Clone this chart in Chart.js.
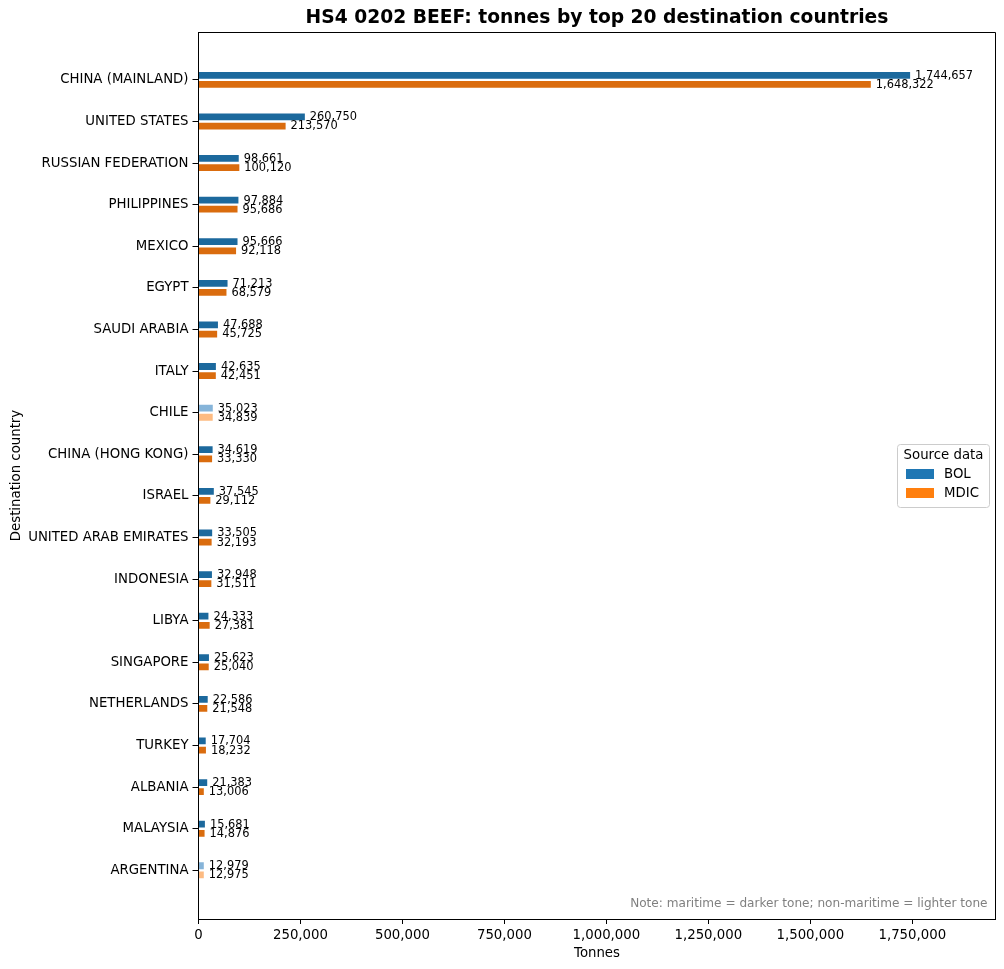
<!DOCTYPE html>
<html>
<head>
<meta charset="utf-8">
<script src="https://cdn.jsdelivr.net/npm/chart.js@4.4.1/dist/chart.umd.min.js"></script>
<style>
  html, body { margin: 0; padding: 0; background: #fff; }
  #wrap { width: 1004px; height: 969px; }
</style>
</head>
<body>
<div id="wrap"><canvas id="c" width="1004" height="969"></canvas></div>
<script>
const countries = [
  'CHINA (MAINLAND)', 'UNITED STATES', 'RUSSIAN FEDERATION', 'PHILIPPINES', 'MEXICO',
  'EGYPT', 'SAUDI ARABIA', 'ITALY', 'CHILE', 'CHINA (HONG KONG)',
  'ISRAEL', 'UNITED ARAB EMIRATES', 'INDONESIA', 'LIBYA', 'SINGAPORE',
  'NETHERLANDS', 'TURKEY', 'ALBANIA', 'MALAYSIA', 'ARGENTINA'
];
const bolTonnes = [
  1744657, 260750, 98661, 97884, 95666,
  71213, 47688, 42635, 35023, 34619,
  37545, 33505, 32948, 24333, 25623,
  22586, 17704, 21383, 15681, 12979
];
const mdicTonnes = [
  1648322, 213570, 100120, 95686, 92118,
  68579, 45725, 42451, 34839, 33330,
  29112, 32193, 31511, 27381, 25040,
  21548, 18232, 13006, 14876, 12975
];
const maritime = [
  true, true, true, true, true,
  true, true, true, false, true,
  true, true, true, true, true,
  true, true, true, true, false
];
const xTicks = [0, 250000, 500000, 750000, 1000000, 1250000, 1500000, 1750000];

const FONT = "'DejaVu Sans', 'Liberation Sans', sans-serif";
const colors = {
  bolDark: '#1c699d', bolLight: '#86b4d9',
  mdicDark: '#da6c0e', mdicLight: '#fdbb82',
  bolLegend: '#1f77b4', mdicLegend: '#ff7f0e'
};
const xMax = Math.max(...bolTonnes, ...mdicTonnes) * 1.12;
const fmt = v => Number(v).toLocaleString('en-US');

const extrasPlugin = {
  id: 'extras',
  afterDatasetsDraw(chart) {
    const ctx = chart.ctx;
    ctx.save();
    ctx.font = '11.4px ' + FONT;
    ctx.fillStyle = '#000';
    ctx.textAlign = 'left';
    ctx.textBaseline = 'middle';
    chart.data.datasets.forEach((ds, di) => {
      const meta = chart.getDatasetMeta(di);
      meta.data.forEach((bar, i) => {
        ctx.fillText(fmt(ds.data[i].x), bar.x + 5, bar.y + 0.5);
      });
    });
    ctx.restore();
  },
  afterDraw(chart) {
    const ctx = chart.ctx;
    const a = chart.chartArea;
    const al = p => Math.round(p - 0.5) + 0.5;
    ctx.save();
    // frame (aligned with the axis borders)
    ctx.strokeStyle = '#000';
    ctx.lineWidth = 1;
    ctx.beginPath();
    ctx.moveTo(al(a.left), al(a.top));
    ctx.lineTo(al(a.right), al(a.top));
    ctx.lineTo(al(a.right), al(a.bottom));
    ctx.stroke();
    // title
    ctx.fillStyle = '#000';
    ctx.font = 'bold 18.7px ' + FONT;
    ctx.textAlign = 'center';
    ctx.textBaseline = 'middle';
    ctx.fillText('HS4 0202 BEEF: tonnes by top 20 destination countries', (a.left + a.right) / 2, 18);
    // note
    ctx.font = '12.1px ' + FONT;
    ctx.fillStyle = '#808080';
    ctx.textAlign = 'right';
    ctx.fillText('Note: maritime = darker tone; non-maritime = lighter tone', a.right - 8, a.bottom - 15);
    // legend
    const lx = 897.5, ly = 444.5, lw = 92, lh = 63;
    ctx.beginPath();
    ctx.roundRect(lx, ly, lw, lh, 3);
    ctx.fillStyle = 'rgba(255,255,255,0.8)';
    ctx.fill();
    ctx.strokeStyle = '#cccccc';
    ctx.stroke();
    ctx.fillStyle = '#000';
    ctx.font = '13.3px ' + FONT;
    ctx.textAlign = 'center';
    ctx.fillText('Source data', lx + lw / 2, 455.5);
    const entries = [
      { label: chart.data.datasets[0].label, color: colors.bolLegend, y: 474 },
      { label: chart.data.datasets[1].label, color: colors.mdicLegend, y: 493 }
    ];
    ctx.textAlign = 'left';
    entries.forEach(e => {
      ctx.fillStyle = e.color;
      ctx.fillRect(906, e.y - 5, 28, 10);
      ctx.fillStyle = '#000';
      ctx.fillText(e.label, 944, e.y + 0.5);
    });
    ctx.restore();
  }
};

new Chart(document.getElementById('c'), {
  type: 'bar',
  data: {
    datasets: [
      {
        label: 'BOL',
        data: bolTonnes.map((v, i) => ({ x: v, y: i })),
        backgroundColor: maritime.map(m => m ? colors.bolDark : colors.bolLight),
        categoryPercentage: 0.44,
        barPercentage: 0.74
      },
      {
        label: 'MDIC',
        data: mdicTonnes.map((v, i) => ({ x: v, y: i })),
        backgroundColor: maritime.map(m => m ? colors.mdicDark : colors.mdicLight),
        categoryPercentage: 0.44,
        barPercentage: 0.74
      }
    ]
  },
  options: {
    indexAxis: 'y',
    responsive: false,
    animation: false,
    devicePixelRatio: 1,
    layout: { padding: { top: 32, right: 8.5, left: 0, bottom: 0 } },
    plugins: {
      legend: { display: false },
      title: { display: false },
      tooltip: { enabled: false }
    },
    scales: {
      x: {
        type: 'linear',
        position: 'bottom',
        min: 0,
        max: xMax,
        offset: false,
        afterBuildTicks(scale) { scale.ticks = xTicks.map(v => ({ value: v })); },
        afterFit(scale) { scale.height = 50; },
        ticks: {
          color: '#000',
          font: { family: FONT, size: 13.3 },
          padding: 4,
          maxRotation: 0,
          autoSkip: false,
          callback: v => fmt(v)
        },
        grid: { offset: false, drawOnChartArea: false, drawTicks: true, tickLength: 5, color: '#000', tickColor: '#000' },
        border: { display: true, color: '#000', width: 1 },
        title: {
          display: true, text: 'Tonnes', color: '#000',
          font: { family: FONT, size: 13.3 },
          padding: { top: 0, bottom: 7 }
        }
      },
      y: {
        type: 'linear',
        position: 'left',
        reverse: true,
        offset: false,
        min: -1.15,
        max: countries.length - 1 + 1.17,
        afterBuildTicks(scale) { scale.ticks = countries.map((c, i) => ({ value: i })); },
        afterFit(scale) { scale.width = 198.5; },
        ticks: {
          color: '#000',
          font: { family: FONT, size: 13.3 },
          padding: 4,
          autoSkip: false,
          callback: v => countries[v]
        },
        grid: { offset: false, drawOnChartArea: false, drawTicks: true, tickLength: 6, color: '#000', tickColor: '#000' },
        border: { display: true, color: '#000', width: 1 },
        title: {
          display: true, text: 'Destination country', color: '#000',
          font: { family: FONT, size: 13.3 },
          padding: { top: 9, bottom: 0 }
        }
      }
    }
  },
  plugins: [extrasPlugin]
});
</script>
</body>
</html>
